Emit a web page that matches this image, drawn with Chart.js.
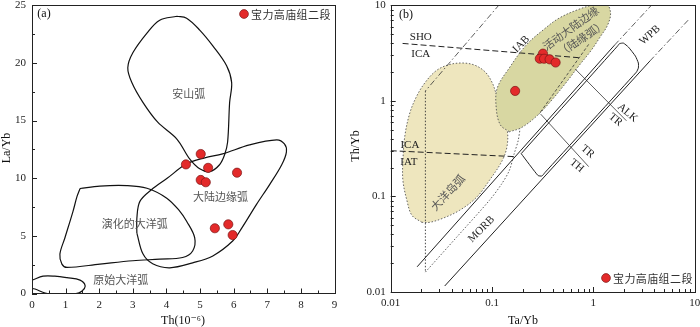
<!DOCTYPE html>
<html>
<head>
<meta charset="utf-8">
<script src="https://cdn.jsdelivr.net/npm/chart.js@4.4.1/dist/chart.umd.min.js"></script>
<style>
  body { margin: 0; background: #fff; }
  #wrap { position: relative; width: 700px; height: 327px; }
  canvas { position: absolute; top: 0; }
  #chartA { left: 0; }
  #chartB { left: 350px; }
</style>
</head>
<body>
<div id="wrap">
  <canvas id="chartA" width="350" height="327"></canvas>
  <canvas id="chartB" width="350" height="327"></canvas>
</div>
<script>
// ---------- panel (a): La/Yb vs Th ----------
const aThTicks = [0, 0.5, 1, 1.5, 2, 2.5, 3, 3.5, 4, 4.5, 5, 5.5, 6, 6.5, 7, 7.5, 8, 8.5, 9];
const aThLabels = [0, 1, 2, 3, 4, 5, 6, 7, 8, 9];
const aLaYbTicks = [0, 2.5, 5, 7.5, 10, 12.5, 15, 17.5, 20, 22.5, 25];
const aLaYbLabels = [0, 5, 10, 15, 20, 25];

const aSampleTh = [4.58, 5.02, 5.24, 5.02, 5.17, 6.1, 5.44, 5.84, 5.97];
const aSampleLaYb = [11.2, 12.1, 10.9, 9.85, 9.65, 10.48, 5.66, 6.0, 5.07];

const andesArcTh = [4.31, 4.60, 4.99, 5.38, 5.79, 5.94, 5.88, 5.82, 5.73, 5.58, 5.29, 4.99, 4.69, 4.31, 3.74, 3.30, 2.97, 2.85, 3.00, 3.42, 3.80, 4.31];
const andesArcLaYb = [24.05, 23.88, 22.85, 21.48, 19.76, 18.30, 16.58, 13.14, 12.03, 11.17, 10.57, 10.82, 11.68, 13.40, 14.86, 16.58, 18.30, 19.59, 20.88, 22.59, 23.71, 24.05];

const contArcTh = [3.12, 3.12, 3.21, 3.56, 4.01, 4.60, 5.14, 5.67, 6.47, 7.28, 7.51, 7.57, 7.43, 7.07, 6.68, 6.24, 5.97, 5.38, 4.78, 4.10, 3.59, 3.30, 3.12];
const contArcLaYb = [5.24, 6.53, 7.99, 9.02, 9.97, 11.25, 11.77, 12.11, 12.89, 13.32, 12.97, 12.29, 11.17, 9.45, 7.73, 5.67, 4.55, 3.26, 2.66, 2.23, 2.58, 3.44, 5.24];

const evolvedArcTh = [1.43, 2.02, 2.82, 3.42, 4.01, 4.40, 4.60, 4.84, 4.78, 4.48, 3.80, 3.00, 2.02, 1.04, 0.89, 0.83, 0.98, 1.22, 1.34, 1.43];
const evolvedArcLaYb = [9.11, 9.32, 9.36, 9.13, 8.27, 7.13, 6.27, 4.84, 3.69, 3.12, 2.98, 2.84, 2.55, 2.26, 2.55, 3.41, 4.84, 7.13, 8.42, 9.11];

const primArcTh = [-0.21, 0.0, 0.33, 0.68, 1.04, 1.43, 1.58, 1.49, 1.28, 0.83, 0.39, 0.09, -0.21];
const primArcLaYb = [0.99, 1.16, 1.50, 1.50, 1.37, 1.16, 0.69, 0.21, -0.04, -0.13, 0.04, 0.39, 0.56];

const aFieldNames = ['安山弧', '大陆边缘弧', '演化的大洋弧', '原始大洋弧'];
const aFieldTh = [4.66, 5.61, 3.06, 2.64];
const aFieldLaYb = [17.35, 8.42, 6.01, 1.20];

// ---------- panel (b): Th/Yb vs Ta/Yb ----------
const bLogTicks = [0.01, 0.02, 0.03, 0.04, 0.05, 0.06, 0.07, 0.08, 0.09,
  0.1, 0.2, 0.3, 0.4, 0.5, 0.6, 0.7, 0.8, 0.9,
  1, 2, 3, 4, 5, 6, 7, 8, 9, 10];
const bLogLabels = [0.01, 0.1, 1, 10];

const bSampleTa = [0.169, 0.318, 0.296, 0.326, 0.37, 0.424];
const bSampleThYb = [1.27, 3.12, 2.76, 2.76, 2.72, 2.52];

const ioaTa = [0.0203, 0.0162, 0.01445, 0.0132, 0.0132, 0.0138, 0.01546, 0.0181, 0.0217, 0.0278, 0.0365, 0.050, 0.067, 0.0859, 0.1007, 0.110, 0.126, 0.141, 0.141, 0.126, 0.0941, 0.0702, 0.0478, 0.0326, 0.0243, 0.0203];
const ioaThYb = [0.0536, 0.0634, 0.0908, 0.1468, 0.237, 0.432, 0.75, 1.127, 1.54, 2.05, 2.37, 2.49, 2.37, 2.00, 1.54, 1.18, 0.787, 0.511, 0.340, 0.237, 0.147, 0.0977, 0.0715, 0.059, 0.0536, 0.0536];

const acmTa = [0.148, 0.1206, 0.110, 0.1127, 0.148, 0.217, 0.326, 0.457, 0.718, 1.054, 1.35, 1.478, 1.38, 1.18, 0.941, 0.718, 0.535, 0.390, 0.278, 0.194, 0.148];
const acmThYb = [0.475, 0.562, 0.846, 1.366, 2.21, 3.83, 5.62, 7.32, 9.08, 10.24, 10.37, 8.26, 6.19, 4.75, 3.32, 2.32, 1.54, 1.024, 0.698, 0.523, 0.475];

const shoIcaTa = [0.0131, 0.718];
const shoIcaThYb = [3.99, 2.83];
const icaIatTa = [0.0100, 0.1655];
const icaIatThYb = [0.301, 0.261];
const steepTa = [0.118, 0.0220];
const steepThYb = [10.17, 1.27];
const verticalTa = [0.0220, 0.0220];
const verticalThYb = [1.27, 0.01615];
const morbEdgeTa = [0.0220, 0.0447, 0.0941, 0.1234, 0.148, 0.1655, 0.181, 0.189];
const morbEdgeThYb = [0.01615, 0.0374, 0.0908, 0.1334, 0.1866, 0.2805, 0.383, 0.511];
const upperArrayTa = [0.01823, 1.618];
const upperArrayThYb = [0.01835, 3.83];
const upperExtTa = [1.618, 3.90];
const upperExtThYb = [3.83, 10.5];
const lowerArrayTa = [0.0341, 3.61];
const lowerArrayThYb = [0.01155, 2.61];
const lowerExtTa = [3.61, 8.79];
const lowerExtThYb = [2.61, 7.15];
const wpbBoxTa = [0.194, 1.73, 1.81, 1.98, 2.22, 2.60, 2.78, 2.78, 2.66, 0.333, 0.311, 0.284, 0.194];
const wpbBoxThYb = [0.2805, 3.74, 3.97, 4.02, 3.65, 2.94, 2.49, 2.21, 2.00, 0.178, 0.1636, 0.1656, 0.2805];
const acmInnerTa = [0.899, 0.291];
const acmInnerThYb = [3.90, 0.727];
const alkTrTa = [0.666, 2.12];
const alkTrThYb = [2.14, 0.619];
const trThTa = [0.302, 0.899];
const trThThYb = [0.727, 0.205];

const bTagText = ['SHO', 'ICA', 'ICA', 'IAT', 'IAB', 'WPB', 'ALK', 'TR', 'TR', 'TH', 'MORB'];
const bTagTa = [0.0198, 0.0198, 0.01546, 0.0151, 0.194, 3.62, 2.17, 1.655, 0.879, 0.686, 0.0785];
const bTagThYb = [4.64, 3.09, 0.348, 0.226, 3.92, 4.87, 0.75, 0.634, 0.294, 0.21, 0.0453];
const bTagAngle = [0, 0, 0, 0, -45, -42, 40, 40, 40, 40, -45];

const bFieldNames = ['大洋岛弧', '活动大陆边缘', '（陆缘弧）'];
const bFieldTa = [0.0365, 0.599, 0.768];
const bFieldThYb = [0.110, 5.76, 4.53];
const bFieldAngle = [-47, -36, -34];

const legendName = '宝力高庙组二段';

// ---------- helpers ----------
const serif = '"Liberation Serif", "DejaVu Serif", serif';
const cjk = '"Noto Sans CJK SC", sans-serif';

function xy(xs, ys) {
  return xs.map((x, i) => ({ x: x, y: ys[i] }));
}

function curve(xs, ys, extra) {
  return Object.assign({
    data: xy(xs, ys),
    showLine: true,
    pointRadius: 0,
    borderColor: '#111',
    borderWidth: 1.2,
    fill: false,
    tension: 0,
    order: 2
  }, extra || {});
}

function samples(xs, ys) {
  return {
    data: xy(xs, ys),
    showLine: false,
    pointRadius: 4.6,
    pointBackgroundColor: '#e32a2a',
    pointBorderColor: '#7a1515',
    pointBorderWidth: 0.7,
    order: 0
  };
}

function zeroPad(s) {
  s.paddingLeft = 0; s.paddingRight = 0; s.paddingTop = 0; s.paddingBottom = 0;
}

function linAxis(ticks, labels, size, horizontal, min, max) {
  return {
    type: 'linear', min: min, max: max,
    grid: { display: false, drawTicks: false },
    border: { display: false },
    afterBuildTicks: s => { s.ticks = ticks.map(v => ({ value: v })); },
    afterFit: s => { if (horizontal) s.height = size; else s.width = size; zeroPad(s); },
    ticks: {
      autoSkip: false, maxRotation: 0, padding: horizontal ? 5 : 6, color: '#222',
      font: { family: serif, size: 11 },
      callback: v => labels.includes(v) ? String(v) : ''
    }
  };
}

function logAxis(size, horizontal) {
  return {
    type: 'logarithmic', min: 0.01, max: 10,
    grid: { display: false, drawTicks: false },
    border: { display: false },
    afterBuildTicks: s => { s.ticks = bLogTicks.map(v => ({ value: v })); },
    afterFit: s => { if (horizontal) s.height = size; else s.width = size; zeroPad(s); },
    ticks: {
      autoSkip: false, maxRotation: 0, padding: 5, color: '#222',
      font: { family: serif, size: 11 },
      callback: v => bLogLabels.some(l => Math.abs(l - v) < 1e-9) ? String(v) : ''
    }
  };
}

function decor(cfg) {
  return {
    id: 'decor',
    afterDraw(chart) {
      const ctx = chart.ctx, a = chart.chartArea;
      const xs = chart.scales.x, ys = chart.scales.y;
      ctx.save();
      ctx.strokeStyle = '#222';
      ctx.lineWidth = 1;
      ctx.beginPath();
      xs.ticks.forEach(t => {
        const p = Math.round(xs.getPixelForValue(t.value)) + 0.5;
        const len = t.label !== '' ? 5 : 3;
        ctx.moveTo(p, a.bottom); ctx.lineTo(p, a.bottom - len);
      });
      ys.ticks.forEach(t => {
        const p = Math.round(ys.getPixelForValue(t.value)) + 0.5;
        const len = t.label !== '' ? 5 : 3;
        ctx.moveTo(a.left, p); ctx.lineTo(a.left + len, p);
      });
      ctx.stroke();
      ctx.strokeRect(Math.round(a.left) + 0.5, Math.round(a.top) + 0.5,
        Math.round(a.right - a.left), Math.round(a.bottom - a.top));

      ctx.textAlign = 'center';
      ctx.textBaseline = 'middle';
      cfg.labels.forEach(l => {
        ctx.save();
        ctx.translate(xs.getPixelForValue(l.x), ys.getPixelForValue(l.y));
        ctx.rotate(l.angle * Math.PI / 180);
        ctx.font = l.font;
        ctx.fillStyle = l.color;
        ctx.fillText(l.text, 0, 0);
        ctx.restore();
      });

      ctx.fillStyle = '#111';
      ctx.font = '12px ' + serif;
      cfg.titles.forEach(t => {
        ctx.save();
        ctx.translate(t.x, t.y);
        ctx.rotate(t.angle * Math.PI / 180);
        ctx.fillText(t.text, 0, 0);
        ctx.restore();
      });

      ctx.font = '12px ' + serif;
      ctx.fillText(cfg.tag.text, cfg.tag.x, cfg.tag.y);

      // legend
      const lg = cfg.legend;
      ctx.beginPath();
      ctx.arc(lg.x, lg.y, 4.4, 0, Math.PI * 2);
      ctx.fillStyle = '#e32a2a';
      ctx.fill();
      ctx.lineWidth = 0.7;
      ctx.strokeStyle = '#7a1515';
      ctx.stroke();
      ctx.textAlign = 'left';
      ctx.fillStyle = '#333';
      ctx.font = '11px ' + cjk;
      ctx.letterSpacing = '0.4px';
      ctx.fillText(legendName, lg.x + 7, lg.y + 0.5);
      ctx.restore();
    }
  };
}

const baseOptions = {
  responsive: false,
  animation: false,
  devicePixelRatio: 1,
  events: [],
  plugins: { legend: { display: false }, tooltip: { enabled: false } }
};

// ---------- chart (a) ----------
const aLabels = aFieldNames.map((t, i) => ({
  text: t, x: aFieldTh[i], y: aFieldLaYb[i], angle: 0, font: '11px ' + cjk, color: '#555'
}));

new Chart(document.getElementById('chartA'), {
  type: 'line',
  data: {
    datasets: [
      samples(aSampleTh, aSampleLaYb),
      curve(andesArcTh, andesArcLaYb, { tension: 0.35 }),
      curve(contArcTh, contArcLaYb, { tension: 0.35 }),
      curve(evolvedArcTh, evolvedArcLaYb, { tension: 0.35 }),
      curve(primArcTh, primArcLaYb, { tension: 0.35 })
    ]
  },
  options: Object.assign({}, baseOptions, {
    layout: { padding: { left: 0, right: 15.5, top: 2, bottom: 0 } },
    scales: {
      x: linAxis(aThTicks, aThLabels, 33.5, true, 0, 9),
      y: linAxis(aLaYbTicks, aLaYbLabels, 32, false, 0, 25)
    }
  }),
  plugins: [decor({
    labels: aLabels,
    titles: [
      { text: 'La/Yb', x: 7, y: 148, angle: -90 },
      { text: 'Th(10⁻⁶)', x: 183, y: 321, angle: 0 }
    ],
    tag: { text: '(a)', x: 44, y: 14 },
    legend: { x: 244, y: 14 }
  })]
});

// ---------- chart (b) ----------
const bLabels = bTagText.map((t, i) => ({
  text: t, x: bTagTa[i], y: bTagThYb[i], angle: bTagAngle[i], font: '11px ' + serif, color: '#222'
})).concat(bFieldNames.map((t, i) => ({
  text: t, x: bFieldTa[i], y: bFieldThYb[i], angle: bFieldAngle[i], font: '11px ' + cjk, color: '#555'
})));

const dotted = [1.5, 1.8];
const dashDot = [6, 2.5, 1.5, 2.5];

new Chart(document.getElementById('chartB'), {
  type: 'line',
  data: {
    datasets: [
      samples(bSampleTa, bSampleThYb),
      curve(shoIcaTa, shoIcaThYb, { borderColor: '#222', borderWidth: 1, borderDash: [6, 3] }),
      curve(icaIatTa, icaIatThYb, { borderColor: '#222', borderWidth: 1, borderDash: [6, 3] }),
      curve(steepTa, steepThYb, { borderColor: '#333', borderWidth: 0.8, borderDash: dashDot }),
      curve(verticalTa, verticalThYb, { borderColor: '#333', borderWidth: 0.9, borderDash: dotted }),
      curve(morbEdgeTa, morbEdgeThYb, { borderColor: '#333', borderWidth: 0.8, borderDash: dotted, tension: 0.3 }),
      curve(upperArrayTa, upperArrayThYb, { borderColor: '#222', borderWidth: 1 }),
      curve(upperExtTa, upperExtThYb, { borderColor: '#333', borderWidth: 0.8, borderDash: dashDot }),
      curve(lowerArrayTa, lowerArrayThYb, { borderColor: '#222', borderWidth: 1 }),
      curve(lowerExtTa, lowerExtThYb, { borderColor: '#333', borderWidth: 0.8, borderDash: dashDot }),
      curve(wpbBoxTa, wpbBoxThYb, { borderColor: '#222', borderWidth: 1, tension: 0.15 }),
      curve(acmInnerTa, acmInnerThYb, { borderColor: '#333', borderWidth: 0.8, borderDash: [3, 2] }),
      curve(alkTrTa, alkTrThYb, { borderColor: '#333', borderWidth: 0.8 }),
      curve(trThTa, trThThYb, { borderColor: '#333', borderWidth: 0.8 }),
      curve(acmTa, acmThYb, {
        borderColor: '#555', borderWidth: 0.9, borderDash: dotted, tension: 0.35,
        fill: 'shape', backgroundColor: '#d8d7a2', order: 4
      }),
      curve(ioaTa, ioaThYb, {
        borderColor: '#555', borderWidth: 0.9, borderDash: dotted, tension: 0.35,
        fill: 'shape', backgroundColor: '#eee6be', order: 5
      })
    ]
  },
  options: Object.assign({}, baseOptions, {
    layout: { padding: { left: 0, right: 3.3, top: 4.5, bottom: 0 } },
    scales: {
      x: logAxis(35, true),
      y: logAxis(40.7, false)
    }
  }),
  plugins: [decor({
    labels: bLabels,
    titles: [
      { text: 'Th/Yb', x: 6, y: 146, angle: -90 },
      { text: 'Ta/Yb', x: 173, y: 321, angle: 0 }
    ],
    tag: { text: '(b)', x: 56, y: 15 },
    legend: { x: 256, y: 278 }
  })]
});
</script>
</body>
</html>
